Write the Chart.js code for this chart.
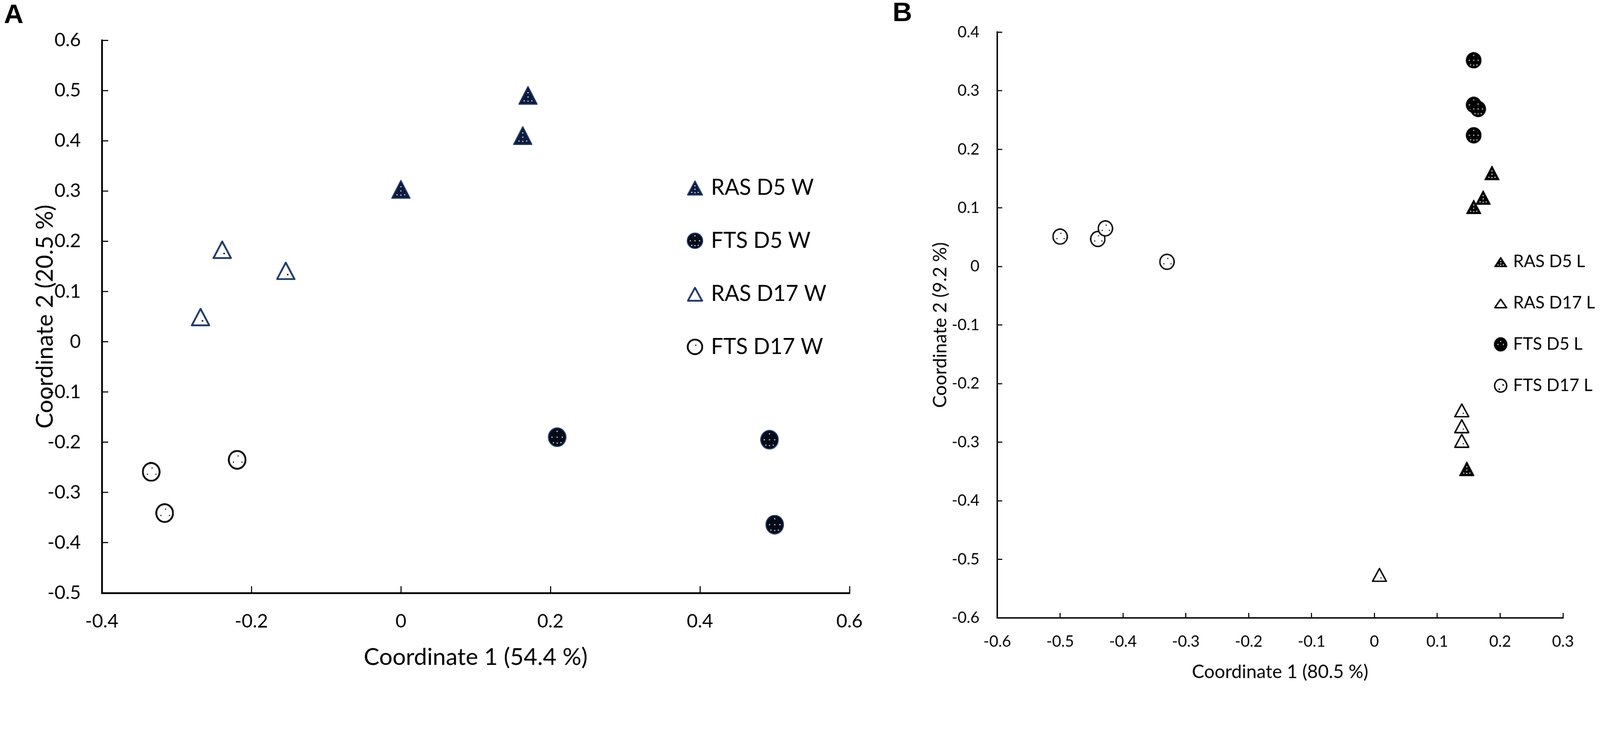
<!DOCTYPE html>
<html>
<head>
<meta charset="utf-8">
<script src="https://cdn.jsdelivr.net/npm/chart.js@4.4.1/dist/chart.umd.min.js"></script>
<style>
  html, body { margin: 0; padding: 0; background: #fff; overflow: hidden; }
  #stage { position: absolute; left: 0; top: 0; width: 4494px; height: 1922px; transform-origin: 0 0; background: #fff; }
  .panel { position: absolute; top: 0; height: 1922px; }
  #wrapA { left: 0; width: 2560px; }
  #wrapB { left: 2560px; width: 1934px; }
  .tag { position: absolute; font: bold 76px "Liberation Sans", Arial, sans-serif; line-height: 76px; color: #000; }
</style>
</head>
<body>
<div id="stage">
  <div class="tag" style="left:11px; top:1px;">A</div>
  <div class="tag" style="left:2507px; top:-5px;">B</div>
  <div class="panel" id="wrapA"><canvas id="chartA"></canvas></div>
  <div class="panel" id="wrapB"><canvas id="chartB"></canvas></div>
</div>

<script>
// ---- Panel A data (W) ----
const labelsA = ['RAS D5 W', 'FTS D5 W', 'RAS D17 W', 'FTS D17 W'];
const rasD5W_x  = [0.170, 0.163, 0.000];
const rasD5W_y  = [0.491, 0.411, 0.304];
const ftsD5W_x  = [0.209, 0.493, 0.500];
const ftsD5W_y  = [-0.190, -0.195, -0.364];
const rasD17W_x = [-0.239, -0.154, -0.268];
const rasD17W_y = [0.184, 0.142, 0.050];
const ftsD17W_x = [-0.334, -0.316, -0.219];
const ftsD17W_y = [-0.259, -0.341, -0.235];

// ---- Panel B data (L) ----
const labelsB = ['RAS D5 L', 'RAS D17 L', 'FTS D5 L', 'FTS D17 L'];
const rasD5L_x  = [0.187, 0.173, 0.158, 0.147];
const rasD5L_y  = [0.160, 0.118, 0.102, -0.345];
const rasD17L_x = [0.139, 0.139, 0.139, 0.008];
const rasD17L_y = [-0.245, -0.272, -0.297, -0.526];
const ftsD5L_x  = [0.158, 0.158, 0.165, 0.158];
const ftsD5L_y  = [0.352, 0.276, 0.269, 0.224];
const ftsD17L_x = [-0.500, -0.440, -0.428, -0.330];
const ftsD17L_y = [0.051, 0.047, 0.065, 0.008];

// fit the 4494x1922 figure into whatever viewport we get
const stage = document.getElementById('stage');
const k = Math.min(window.innerWidth / 4494, window.innerHeight / 1922);
stage.style.transform = 'scale(' + k + ')';

Chart.defaults.font.family = 'Lato, "Open Sans", sans-serif';
Chart.defaults.color = '#000';

const NAVY = '#1f3864';
const triDots = [[0.5, 0.38], [0.5, 0.6], [0.5, 0.82], [0.3, 0.8], [0.7, 0.8]];
const circDots = [[0.5, 0.2], [0.5, 0.5], [0.5, 0.8], [0.22, 0.5], [0.78, 0.5], [0.3, 0.78], [0.7, 0.78]];
const openTriDots = [[0.6, 0.72]];
const openCircDots = [[0.55, 0.3], [0.3, 0.62], [0.76, 0.62]];

// small speckled marker images, like the Excel patterned markers
function marker(shape, w, h, fill, stroke, lw, dots, dotColor, dotSize) {
  const c = document.createElement('canvas');
  c.width = w; c.height = h;
  const g = c.getContext('2d');
  g.beginPath();
  if (shape === 'tri') {
    g.moveTo(w / 2, lw);
    g.lineTo(w - lw / 2, h - lw / 2);
    g.lineTo(lw / 2, h - lw / 2);
    g.closePath();
  } else {
    g.ellipse(w / 2, h / 2, w / 2 - lw / 2, h / 2 - lw / 2, 0, 0, Math.PI * 2);
  }
  g.fillStyle = fill;
  g.fill();
  g.lineWidth = lw;
  g.lineJoin = 'round';
  g.strokeStyle = stroke;
  g.stroke();
  g.fillStyle = dotColor;
  dots.forEach(p => g.fillRect(w * p[0] - dotSize / 2, h * p[1] - dotSize / 2, dotSize, dotSize));
  return c;
}

function points(xs, ys) {
  return xs.map((x, i) => ({ x: x, y: ys[i] }));
}

function dataset(label, xs, ys, img, legendImg) {
  return {
    label: label,
    data: points(xs, ys),
    pointStyle: img,
    pointRadius: img.width / 2,
    pointHoverRadius: img.width / 2,
    showLine: false,
    legendMarker: legendImg
  };
}

// legend drawn inside the plot area, as in the original figure
const markerLegend = {
  id: 'markerLegend',
  afterDatasetsDraw(chart, args, opts) {
    const ctx = chart.ctx;
    ctx.save();
    ctx.font = opts.size + 'px Lato, "Open Sans", sans-serif';
    ctx.fillStyle = '#000';
    ctx.textBaseline = 'middle';
    ctx.textAlign = 'left';
    chart.data.datasets.forEach((ds, i) => {
      const y = opts.y + i * opts.gap;
      const img = ds.legendMarker;
      ctx.drawImage(img, opts.x - img.width / 2, y - img.height / 2);
      ctx.fillText(ds.label, opts.textX, y);
    });
    ctx.restore();
  }
};

function axis(min, max, step, o) {
  return {
    type: 'linear',
    min: min,
    max: max,
    ticks: { stepSize: step, padding: o.pad, font: { size: o.tickSize }, color: '#000' },
    grid: { drawOnChartArea: false, drawTicks: true, tickLength: -o.tickLen, tickWidth: 3, tickColor: '#000' },
    border: { display: true, color: '#000', width: o.border },
    title: { display: true, text: o.title, color: '#000', font: { size: o.titleSize }, padding: o.titlePad },
    afterFit: o.fit
  };
}

// ---- Chart A ----
new Chart(document.getElementById('chartA'), {
  type: 'scatter',
  data: {
    datasets: [
      dataset(labelsA[0], rasD5W_x, rasD5W_y,
        marker('tri', 54, 54, '#0c1a3c', NAVY, 3, triDots, '#fff', 3),
        marker('tri', 45, 44, '#0c1a3c', NAVY, 3, triDots, '#fff', 3)),
      dataset(labelsA[1], ftsD5W_x, ftsD5W_y,
        marker('circ', 52, 55, '#050a18', NAVY, 3, circDots, '#fff', 3),
        marker('circ', 46, 46, '#050a18', NAVY, 3, circDots, '#fff', 3)),
      dataset(labelsA[2], rasD17W_x, rasD17W_y,
        marker('tri', 54, 54, '#fff', NAVY, 5, openTriDots, '#000', 4),
        marker('tri', 45, 44, '#fff', NAVY, 5, [], '#000', 3)),
      dataset(labelsA[3], ftsD17W_x, ftsD17W_y,
        marker('circ', 52, 55, '#fff', '#000', 5, openCircDots, '#000', 3),
        marker('circ', 46, 46, '#fff', '#000', 5, [[0.55, 0.4]], '#000', 3))
    ]
  },
  options: {
    responsive: true,
    maintainAspectRatio: false,
    animation: false,
    layout: { padding: { left: 0, top: 113, right: 174, bottom: 0 } },
    plugins: {
      legend: { display: false },
      tooltip: { enabled: false },
      markerLegend: { x: 1952, textX: 1997, y: 527, gap: 149, size: 61 }
    },
    scales: {
      x: axis(-0.4, 0.6, 0.2, {
        pad: 67, tickSize: 53, tickLen: 19, border: 5,
        title: 'Coordinate 1 (54.4 %)', titleSize: 66, titlePad: { top: 0, bottom: 37 },
        fit: s => { s.height = 257; }
      }),
      y: axis(-0.5, 0.6, 0.1, {
        pad: 77, tickSize: 53, tickLen: 18, border: 5,
        title: 'Coordinate 2 (20.5 %)', titleSize: 66, titlePad: { top: 87, bottom: 0 },
        fit: s => { s.width = 286; }
      })
    }
  },
  plugins: [markerLegend]
});

// ---- Chart B ----
new Chart(document.getElementById('chartB'), {
  type: 'scatter',
  data: {
    datasets: [
      dataset(labelsB[0], rasD5L_x, rasD5L_y,
        marker('tri', 43, 42, '#000', '#000', 2, triDots, '#fff', 3),
        marker('tri', 37, 30, '#000', '#000', 2, triDots, '#fff', 3)),
      dataset(labelsB[1], rasD17L_x, rasD17L_y,
        marker('tri', 43, 42, '#fff', '#000', 4, openTriDots, '#000', 3),
        marker('tri', 37, 30, '#fff', '#000', 4, [], '#000', 3)),
      dataset(labelsB[2], ftsD5L_x, ftsD5L_y,
        marker('circ', 44, 46, '#000', '#000', 2, circDots, '#fff', 3),
        marker('circ', 38, 40, '#000', '#000', 2, [[0.3, 0.5], [0.7, 0.5], [0.5, 0.3]], '#fff', 3)),
      dataset(labelsB[3], ftsD17L_x, ftsD17L_y,
        marker('circ', 44, 46, '#fff', '#000', 4, openCircDots, '#000', 3),
        marker('circ', 38, 40, '#fff', '#000', 4, [[0.68, 0.45], [0.4, 0.75]], '#000', 4))
    ]
  },
  options: {
    responsive: true,
    maintainAspectRatio: false,
    animation: false,
    layout: { padding: { left: 0, top: 34, right: 104, bottom: 0 } },
    plugins: {
      legend: { display: false },
      tooltip: { enabled: false },
      markerLegend: { x: 1655, textX: 1690, y: 735, gap: 116, size: 48 }
    },
    scales: {
      x: axis(-0.6, 0.3, 0.1, {
        pad: 54, tickSize: 44, tickLen: 14, border: 4,
        title: 'Coordinate 1 (80.5 %)', titleSize: 52, titlePad: { top: 0, bottom: 4 },
        fit: s => { s.height = 187; }
      }),
      y: axis(-0.6, 0.4, 0.1, {
        pad: 64, tickSize: 44, tickLen: 14, border: 4,
        title: 'Coordinate 2 (9.2 %)', titleSize: 52, titlePad: { top: 50, bottom: 0 },
        fit: s => { s.width = 241; }
      })
    }
  },
  plugins: [markerLegend]
});
</script>
</body>
</html>
